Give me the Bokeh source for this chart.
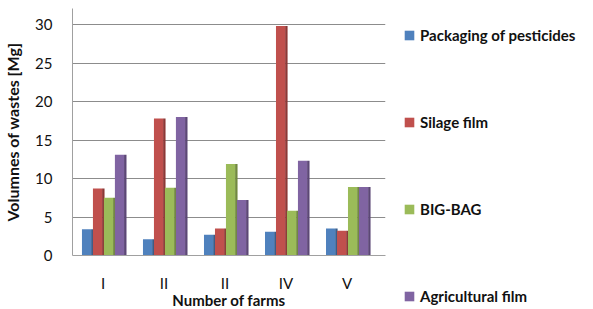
from bokeh.plotting import figure
from bokeh.models import ColumnDataSource, FixedTicker, Legend, LegendItem
from bokeh.transform import dodge
from bokeh.embed import file_html
from bokeh.resources import INLINE

farms = [1, 2, 3, 4, 5]
farm_labels = ["I", "II", "II", "IV", "V"]
series_names = ["Packaging of pesticides", "Silage film", "BIG-BAG", "Agricultural film"]
pesticides = [3.4, 2.1, 2.7, 3.1, 3.5]
silage = [8.7, 17.8, 3.5, 29.8, 3.2]
bigbag = [7.5, 8.8, 11.9, 5.8, 8.9]
agri = [13.1, 18.0, 7.2, 12.3, 8.9]
y_ticks = [0, 5, 10, 15, 20, 25, 30]
colors = ["#4F81BD", "#C0504D", "#9BBB59", "#8064A2"]
side_colors = ["#385D8A", "#8C3836", "#71893F", "#5C4776"]

src = ColumnDataSource(dict(x=farms, s0=pesticides, s1=silage, s2=bigbag, s3=agri))

p = figure(frame_width=313, frame_height=247, output_backend="svg", toolbar_location=None,
           x_range=(0.5, 5.63), y_range=(0, 32.08),
           min_border_left=64, min_border_right=0, min_border_top=8, min_border_bottom=0)
p.outline_line_color = None
p.background_fill_color = "white"
p.border_fill_color = "white"

offsets = [-0.27, -0.09, 0.09, 0.27]
items = []
for i, key in enumerate(["s0", "s1", "s2", "s3"]):
    p.vbar(x=dodge("x", offsets[i] + 0.095), top=key, width=0.04, source=src,
           fill_color=side_colors[i], line_color=None)
    r = p.vbar(x=dodge("x", offsets[i]), top=key, width=0.15, source=src,
               fill_color=colors[i], line_color=None)
    items.append(LegendItem(label=series_names[i], renderers=[r]))

legend = Legend(items=items, location="top_left", orientation="vertical",
                spacing=69, padding=0, margin=18, border_line_color=None,
                background_fill_alpha=0, glyph_width=12, glyph_height=12,
                label_standoff=5, label_text_font="Lato", label_text_font_style="bold",
                label_text_font_size="15px", label_height=17, label_text_color="#111111")
p.add_layout(legend, "right")

p.xaxis.ticker = FixedTicker(ticks=farms)
p.xaxis.major_label_overrides = {f: l for f, l in zip(farms, farm_labels)}
p.yaxis.ticker = FixedTicker(ticks=y_ticks)

p.xaxis.axis_label = "Number of farms"
p.yaxis.axis_label = "Volumnes of wastes [Mg]"
for ax in (p.xaxis, p.yaxis):
    ax.axis_label_text_font = "Lato"
    ax.axis_label_text_font_style = "bold"
    ax.axis_label_text_font_size = "15px"
    ax.axis_label_text_color = "#111111"
    ax.major_label_text_font = "Lato"
    ax.major_label_text_font_size = "15px"
    ax.major_label_text_color = "#111111"
    ax.axis_line_color = "#a0a0a0"
    ax.major_tick_line_color = None
    ax.minor_tick_line_color = None

p.yaxis.axis_label_text_font_size = "16px"
p.yaxis.major_label_standoff = 14
p.xaxis.major_label_standoff = 12
p.xaxis.axis_label_standoff = -4
p.yaxis.axis_label_standoff = 10

p.xgrid.grid_line_color = None
p.ygrid.grid_line_color = "#8c8c8c"
p.ygrid.grid_line_width = 1

open("out.html", "w").write(file_html(p, INLINE))
